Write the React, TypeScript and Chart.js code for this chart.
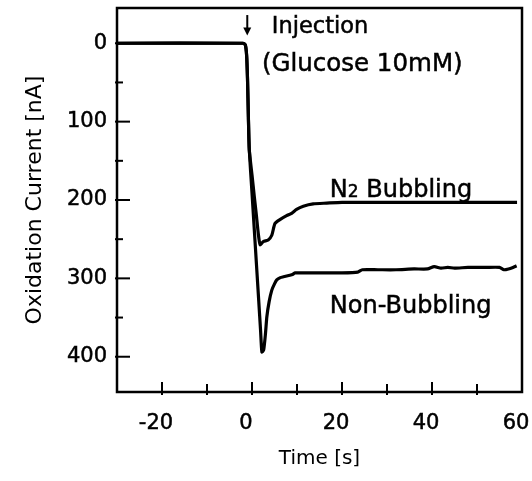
import React, { useEffect, useRef } from "react";
import { Chart, registerables } from "chart.js";

Chart.register(...registerables);

// ---- data (time [s], oxidation current [nA]) ----
const nonBubblingTime = [-30, -2, -1.5, -1.2, -1.0, -0.8, -0.6, 0, 0.5, 1.0, 1.5, 1.9, 2.2, 2.6, 3.0, 3.3, 3.8, 4.4, 5.0, 5.5, 6.3, 7.0, 8.4, 9.0, 9.6, 12, 16, 20, 23.5, 24.5, 28, 32, 36, 39, 40.5, 42, 43.5, 45, 48, 52, 55, 56, 57, 58, 58.8];
const nonBubblingCurrent = [0, 0, 2, 15, 45, 95, 136, 191, 237, 283, 329, 366, 394, 391, 370, 349, 330, 315, 307, 302, 299, 298, 296, 295, 293, 293, 293, 293, 292, 289, 289, 289, 288, 288, 285, 287, 286, 287, 286, 286, 286, 289, 288, 286, 284];

const n2Time = [-30, -2, -1.5, -1.2, -1.0, -0.8, -0.6, 0, 0.5, 1.0, 1.4, 1.8, 2.5, 3.6, 4.4, 5.1, 6.2, 7.7, 8.8, 9.9, 11.4, 13.6, 16.6, 20, 30, 40, 50, 58.9];
const n2Current = [0, 0, 2, 15, 45, 95, 136, 168, 195, 221, 243, 257, 253, 251, 245, 230, 225, 220, 217, 212, 208, 205, 204, 203, 203, 203, 203, 203];

const xTickValues = [-20, -10, 0, 10, 20, 30, 40, 50];
const xLabelValues = [-20, 0, 20, 40, 60];
const yTickValues = [0, 50, 100, 150, 200, 250, 300, 350, 400];
const yLabelValues = [0, 100, 200, 300, 400];

const xTitle = "Time [s]";
const yTitle = "Oxidation Current [nA]";

// annotation texts anchored in data coordinates (left edge, baseline)
const injectionArrow = { x: -1.05, yFrom: -36, yTo: -10 };
const injectionLabel = { text: "Injection", x: 4.4, y: -13 };
const glucoseLabel = { text: "(Glucose 10mM)", x: 2.2, y: 36 };
const n2Label = { main: "N", sub: "2", rest: " Bubbling", x: 17.3, y: 196 };
const nonBubblingLabel = { text: "Non-Bubbling", x: 17.3, y: 344 };

const FONT = "'DejaVu Sans', Verdana, sans-serif";

const toPoints = (xs: number[], ys: number[]) => xs.map((x, i) => ({ x, y: ys[i] }));

const zeroPadding = (scale: any) => {
  scale.paddingTop = 0;
  scale.paddingBottom = 0;
  scale.paddingLeft = 0;
  scale.paddingRight = 0;
};

const drawText = (ctx: any, text: string, x: number, y: number) => {
  ctx.fillText(text, x, y);
  ctx.strokeText(text, x, y);
};

const framePlugin = {
  id: "frameTicks",
  afterDatasetsDraw(chart: any) {
    const { ctx, chartArea, scales } = chart;
    const { left, right, top, bottom } = chartArea;
    ctx.save();
    ctx.strokeStyle = "#000";
    ctx.lineWidth = 2.5;
    ctx.strokeRect(left, top, right - left, bottom - top);
    ctx.lineWidth = 2;
    for (const v of xTickValues) {
      const px = scales.x.getPixelForValue(v);
      const major = xLabelValues.includes(v);
      ctx.beginPath();
      ctx.moveTo(px, bottom + 3);
      ctx.lineTo(px, bottom - (major ? 10 : 8));
      ctx.stroke();
    }
    for (const v of yTickValues) {
      const py = scales.y.getPixelForValue(v);
      const major = yLabelValues.includes(v);
      ctx.beginPath();
      ctx.moveTo(left - 2, py);
      ctx.lineTo(left + (major ? 13 : 6), py);
      ctx.stroke();
    }
    ctx.restore();
  },
  afterDraw(chart: any) {
    const { ctx, scales } = chart;
    const X = (v: number) => scales.x.getPixelForValue(v);
    const Y = (v: number) => scales.y.getPixelForValue(v);
    ctx.save();
    ctx.fillStyle = "#000";
    ctx.strokeStyle = "#000";
    const ax = X(injectionArrow.x);
    const ay1 = Y(injectionArrow.yFrom);
    const ay2 = Y(injectionArrow.yTo);
    ctx.lineWidth = 2;
    ctx.beginPath();
    ctx.moveTo(ax, ay1);
    ctx.lineTo(ax, ay2 - 4);
    ctx.stroke();
    ctx.beginPath();
    ctx.moveTo(ax - 4, ay2 - 8);
    ctx.lineTo(ax + 4, ay2 - 8);
    ctx.lineTo(ax, ay2);
    ctx.closePath();
    ctx.fill();

    ctx.lineWidth = 0.5;
    ctx.textBaseline = "alphabetic";
    ctx.textAlign = "left";
    ctx.font = `22.5px ${FONT}`;
    drawText(ctx, injectionLabel.text, X(injectionLabel.x), Y(injectionLabel.y));
    ctx.font = `24.5px ${FONT}`;
    drawText(ctx, glucoseLabel.text, X(glucoseLabel.x), Y(glucoseLabel.y));
    ctx.font = `24px ${FONT}`;
    drawText(ctx, nonBubblingLabel.text, X(nonBubblingLabel.x), Y(nonBubblingLabel.y));
    let nx = X(n2Label.x);
    const ny = Y(n2Label.y);
    drawText(ctx, n2Label.main, nx, ny);
    nx += ctx.measureText(n2Label.main).width;
    ctx.font = `17px ${FONT}`;
    drawText(ctx, n2Label.sub, nx, ny);
    nx += ctx.measureText(n2Label.sub).width;
    ctx.font = `24px ${FONT}`;
    drawText(ctx, n2Label.rest, nx, ny);
    ctx.restore();
  },
};

export default function App() {
  const canvasRef = useRef<HTMLCanvasElement | null>(null);

  useEffect(() => {
    if (!canvasRef.current) return;
    const chart = new Chart(canvasRef.current, {
      type: "line",
      data: {
        datasets: [
          {
            label: "Non-Bubbling",
            data: toPoints(nonBubblingTime, nonBubblingCurrent),
            borderColor: "#000",
            borderWidth: 3.2,
            pointRadius: 0,
            tension: 0.2,
            fill: false,
          },
          {
            label: "N2 Bubbling",
            data: toPoints(n2Time, n2Current),
            borderColor: "#000",
            borderWidth: 3.2,
            pointRadius: 0,
            tension: 0.2,
            fill: false,
          },
        ],
      },
      options: {
        animation: false,
        responsive: false,
        maintainAspectRatio: false,
        layout: { padding: { top: 8, right: 10, left: 0, bottom: 0 } },
        plugins: { legend: { display: false }, tooltip: { enabled: false } },
        scales: {
          x: {
            type: "linear",
            min: -30,
            max: 60,
            grid: { display: false, drawTicks: false },
            border: { display: false },
            afterBuildTicks: (scale: any) => {
              scale.ticks = xLabelValues.map((v) => ({ value: v }));
            },
            afterFit: (scale: any) => {
              scale.height = 89;
              zeroPadding(scale);
            },
            ticks: {
              color: "#000",
              font: { family: FONT, size: 21 },
              padding: 19,
              labelOffset: -6,
              maxRotation: 0,
              autoSkip: false,
              textStrokeColor: "#000",
              textStrokeWidth: 0.5,
              callback: (v: any) => String(v),
            },
            title: {
              display: true,
              text: xTitle,
              color: "#000",
              font: { family: FONT, size: 20 },
              padding: { top: 0, bottom: 10 },
            },
          },
          y: {
            type: "linear",
            reverse: true,
            min: -45,
            max: 445,
            grid: { display: false, drawTicks: false },
            border: { display: false },
            afterBuildTicks: (scale: any) => {
              scale.ticks = yLabelValues.map((v) => ({ value: v }));
            },
            afterFit: (scale: any) => {
              scale.width = 117;
              zeroPadding(scale);
            },
            ticks: {
              color: "#000",
              font: { family: FONT, size: 21 },
              padding: 10,
              autoSkip: false,
              textStrokeColor: "#000",
              textStrokeWidth: 0.5,
              callback: (v: any) => String(v),
            },
            title: {
              display: true,
              text: yTitle,
              color: "#000",
              font: { family: FONT, size: 22 },
              padding: { top: 22, bottom: 0 },
            },
          },
        },
      },
      plugins: [framePlugin],
    } as any);
    return () => chart.destroy();
  }, []);

  return (
    <div style={{ position: "fixed", left: 0, top: 0, width: 532, height: 481, background: "#fff" }}>
      <canvas ref={canvasRef} width={532} height={481} style={{ display: "block" }} />
    </div>
  );
}
